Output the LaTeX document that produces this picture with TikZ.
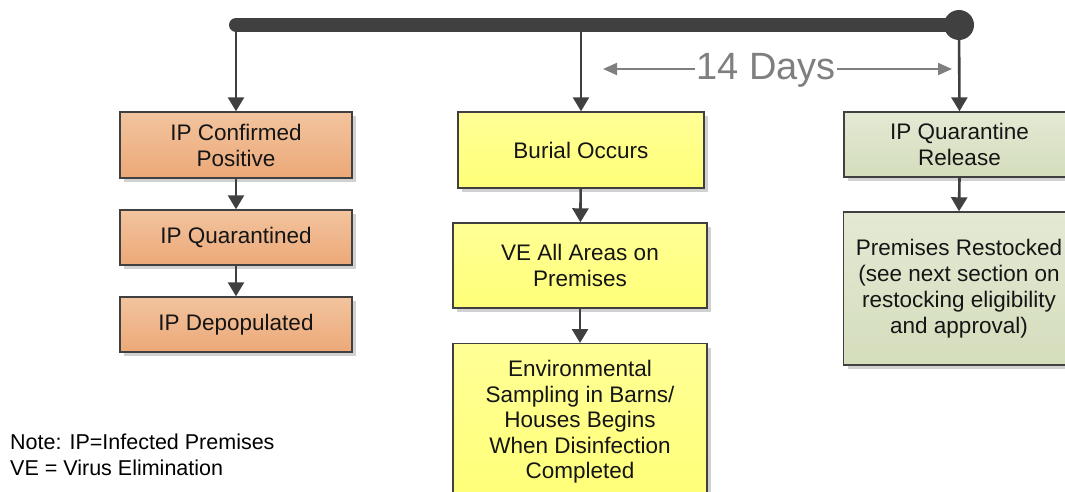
\documentclass[tikz,border=0pt]{standalone}
\usepackage{fontspec}
\setmainfont{Liberation Sans}
\usetikzlibrary{arrows.meta,shadows}
\definecolor{ln}{HTML}{404040}
\definecolor{txt}{HTML}{151515}
\definecolor{orT}{RGB}{242,196,158}
\definecolor{orB}{RGB}{236,168,120}
\definecolor{yeT}{RGB}{255,255,150}
\definecolor{yeB}{RGB}{255,255,120}
\definecolor{grT}{RGB}{228,233,212}
\definecolor{grB}{RGB}{212,221,188}
\definecolor{daygray}{HTML}{7F7F7F}
\tikzset{
  box/.style={draw=ln, line width=1.4pt, align=center, text=txt, inner sep=0pt,
    font=\fontsize{22.5}{26}\selectfont,
    drop shadow={shadow xshift=4pt, shadow yshift=-4pt, fill=black!18, opacity=1}},
  orbox/.style={box, top color=orT, bottom color=orB, minimum width=232pt},
  yebox/.style={box, top color=yeT, bottom color=yeB},
  grbox/.style={box, top color=grT, bottom color=grB, minimum width=231pt},
  flow/.style={draw=ln, line width=2.6pt, -{Triangle[length=14pt,width=16pt]}},
  dayarrow/.style={draw=daygray, line width=2pt, -{Triangle[length=14pt,width=12pt]}}
}
\begin{document}
\begin{tikzpicture}[x=1pt,y=-1pt]
\useasboundingbox (0,0) rectangle (1065,492);
\clip (0,0) rectangle (1065,492);

% timeline bar
\coordinate (barL) at (236,25);
\coordinate (barM) at (581,25);
\node[circle, fill=ln, minimum size=30pt, inner sep=0pt] (barR) at (959,25) {};
\draw[ln, line width=14pt, line cap=round] (barL) -- (barR.center);

% left column
\node[orbox, minimum height=66pt] (c1) at (236,145) {IP Confirmed\\Positive};
\node[orbox, minimum height=55pt] (c2) at (236,237.5) {IP Quarantined};
\node[orbox, minimum height=55pt] (c3) at (236,324.5) {IP Depopulated};

% middle column
\node[yebox, minimum width=246pt, minimum height=76pt] (m1) at (581,150) {Burial Occurs};
\node[yebox, minimum width=254pt, minimum height=85pt] (m2) at (580,265.5) {VE All Areas on\\Premises};
\node[yebox, minimum width=254pt, anchor=north, inner ysep=16.5pt, font=\fontsize{22.5}{25.5}\selectfont] (m3) at (580,343)
  {Environmental\\Sampling in Barns/\\Houses Begins\\When Disinfection\\Completed};

% right column
\node[grbox, minimum height=65pt] (r1) at (959.5,144.5) {IP Quarantine\\Release};
\node[grbox, minimum height=153pt] (r2) at (959,288.5)
  {Premises Restocked\\(see next section on\\restocking eligibility\\and approval)};

% connectors
\draw[flow] (barL) -- (c1.north);
\draw[flow] (c1) -- (c2);
\draw[flow] (c2) -- (c3);
\draw[flow] (barM) -- (m1.north);
\draw[flow] (m1) -- (m2);
\draw[flow] (m2) -- (m3);
\draw[flow] (barR.center) -- (r1.north);
\draw[flow] (r1.south) -- (r2.north);

% 14 days
\node[text=daygray, font=\fontsize{38}{40}\selectfont, inner sep=1pt, anchor=base] (days) at (766,80) {14 Days};
\coordinate (dA) at (603,69);
\coordinate (dB) at (952,69);
\draw[dayarrow] (days.west |- dA) -- (dA);
\draw[dayarrow] (days.east |- dB) -- (dB);

% note
\node[anchor=north west, align=left, inner sep=0pt, font=\fontsize{21.5}{25.5}\selectfont] (note) at (10,434)
  {Note: IP=Infected Premises\\VE = Virus Elimination};
\end{tikzpicture}
\end{document}
